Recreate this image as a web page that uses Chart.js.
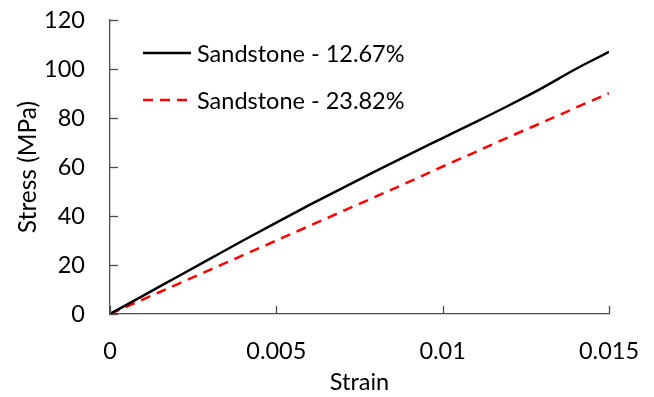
<!DOCTYPE html>
<html><head><meta charset="utf-8">
<script src="https://cdn.jsdelivr.net/npm/chart.js@4/dist/chart.umd.min.js"></script>
<style>html,body{margin:0;padding:0;background:#fff}#w{width:654px;height:397px}</style>
</head><body><div id="w"><canvas id="c" width="654" height="397"></canvas></div>
<script>
const strain = [0,0.001,0.002,0.003,0.004,0.005,0.006,0.007,0.008,0.009,0.010,0.011,0.012,0.013,0.014,0.015];
const stressSandstone1267 = [0,7.5,15,22.5,30,37.3,44.5,51.5,58.4,65.2,71.8,78.4,85.2,92.3,100,107];
const stressSandstone2382 = [0,6,12,18,24,30,36,42,48,54,60.2,66.2,72.3,78.2,84.2,90.1];
const seriesLabels = ['Sandstone - 12.67%','Sandstone - 23.82%'];
const xTickLabels = ['0','0.005','0.01','0.015'];
const yTickLabels = ['0','20','40','60','80','100','120'];

const FONT = 'Lato';
const toPts = (xs, ys) => xs.map((x,i)=>({x:x,y:ys[i]}));

const inwardTicks = {
  id:'inwardTicks',
  afterDatasetsDraw(chart){
    const ctx = chart.ctx, xs = chart.scales.x, ys = chart.scales.y;
    ctx.save();
    ctx.strokeStyle = '#4d4d4d'; ctx.lineWidth = 1.3;
    xs.ticks.forEach(t=>{
      const p = Math.round(xs.getPixelForValue(t.value))+0.5;
      ctx.beginPath(); ctx.moveTo(p, ys.bottom); ctx.lineTo(p, ys.bottom-8); ctx.stroke();
    });
    ys.ticks.forEach(t=>{
      const p = Math.round(ys.getPixelForValue(t.value))+0.5;
      ctx.beginPath(); ctx.moveTo(xs.left, p); ctx.lineTo(xs.left+8, p); ctx.stroke();
    });
    ctx.restore();
  }
};

const customLegend = {
  id:'customLegend',
  afterDraw(chart){
    const ctx = chart.ctx;
    ctx.save();
    ctx.font = '23.5px ' + FONT;
    ctx.textBaseline = 'middle';
    ctx.fillStyle = '#000';
    const rows = [53, 100];
    chart.data.datasets.forEach((ds,i)=>{
      const y = rows[i];
      ctx.strokeStyle = ds.borderColor; ctx.lineWidth = ds.borderWidth;
      ctx.setLineDash(ds.borderDash || []);
      ctx.beginPath(); ctx.moveTo(143, y); ctx.lineTo(191, y); ctx.stroke();
      ctx.setLineDash([]);
      ctx.fillText(ds.label, 197, y+1);
    });
    ctx.restore();
  }
};

new Chart(document.getElementById('c'), {
  type:'line',
  data:{
    datasets:[
      {label:seriesLabels[0], data:toPts(strain, stressSandstone1267), borderColor:'#000000', borderWidth:2.5, pointRadius:0, cubicInterpolationMode:'monotone', fill:false},
      {label:seriesLabels[1], data:toPts(strain, stressSandstone2382), borderColor:'#ff0000', borderWidth:2.5, borderDash:[10,7], pointRadius:0, cubicInterpolationMode:'monotone', fill:false}
    ]
  },
  options:{
    responsive:false, animation:false, devicePixelRatio:1,
    layout:{padding:{left:0, top:20, right:45, bottom:0}},
    plugins:{legend:{display:false}, tooltip:{enabled:false}},
    scales:{
      x:{
        type:'linear', min:0, max:0.015,
        afterFit(s){ s.height = 83; s.paddingLeft = 0; s.paddingRight = 0; },
        afterBuildTicks(s){ s.ticks = xTickLabels.map(v=>({value:parseFloat(v)})); },
        grid:{display:false, drawTicks:false},
        border:{display:true, color:'#4d4d4d', width:1.3},
        ticks:{padding:23, color:'#000', font:{family:FONT, size:23.5}, maxRotation:0, autoSkip:false,
          callback:(v,i)=>xTickLabels[i]},
        title:{display:true, text:'Strain', color:'#000', font:{family:FONT, size:23.5}, padding:{top:0,bottom:0}}
      },
      y:{
        min:0, max:120,
        afterFit(s){ s.width = 110; s.paddingTop = 0; s.paddingBottom = 0; },
        afterBuildTicks(s){ s.ticks = yTickLabels.map(v=>({value:parseFloat(v)})); },
        grid:{display:false, drawTicks:false},
        border:{display:true, color:'#4d4d4d', width:1.3},
        ticks:{padding:25, color:'#000', font:{family:FONT, size:23.5}, autoSkip:false,
          callback:(v,i)=>yTickLabels[i]},
        title:{display:true, text:'Stress (MPa)', color:'#000', font:{family:FONT, size:24.5}, padding:{top:13,bottom:0}}
      }
    }
  },
  plugins:[inwardTicks, customLegend]
});
</script>
</body></html>
